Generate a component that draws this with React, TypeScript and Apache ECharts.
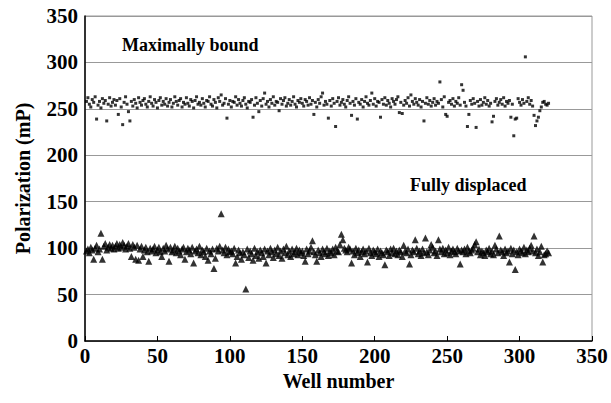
import React, { useEffect, useRef } from "react";
import * as echarts from "echarts";

const boundValues: number[] = [
  258, 262, 255, 252, 260, 257, 263, 239, 254, 258, 251, 261, 256, 259, 237, 255, 262, 253, 257, 260,
  254, 259, 244, 261, 252, 233, 257, 263, 255, 247, 237, 258, 253, 260, 256, 251, 262, 257, 254, 259,
  261, 255, 252, 258, 263, 256, 253, 260, 257, 251, 259, 262, 254, 258, 255, 261, 253, 257, 260, 252,
  256, 263, 258, 254, 259, 261, 252, 257, 255, 262, 256, 253, 260, 258, 251, 259, 263, 255, 257, 254,
  261, 256, 252, 259, 258, 263, 255, 253, 260, 257, 251, 262, 258, 265, 254, 256, 261, 240, 255, 259,
  252, 258, 257, 263, 254, 260, 256, 253, 259, 262, 255, 251, 258, 257, 260, 241, 254, 262, 256, 247,
  259, 253, 261, 267, 255, 258, 252, 260, 256, 263, 254, 258, 257, 248, 261, 255, 259, 262, 253, 256,
  260, 254, 258, 263, 255, 252, 259, 257, 261, 256, 253, 260, 258, 254, 262, 255, 259, 244, 257, 252,
  260, 256, 263, 267, 254, 258, 255, 240, 259, 253, 261, 256, 231, 258, 262, 254, 257, 260, 255, 252,
  259, 263, 256, 243, 258, 254, 261, 239, 257, 255, 260, 252, 258, 263, 256, 254, 259, 267, 255, 261,
  253, 258, 257, 241, 260, 255, 262, 254, 259, 256, 252, 261, 258, 255, 260, 263, 246, 257, 245, 254,
  259, 256, 262, 253, 265, 258, 255, 261, 257, 254, 260, 252, 258, 237, 256, 262, 255, 259, 253, 257,
  261, 254, 258, 256, 279, 260, 252, 263, 244, 242, 257, 259, 255, 261, 253, 258, 256, 262, 254, 276,
  270, 257, 253, 231, 244, 259, 255, 261, 256, 230, 258, 253, 260, 254, 257, 262, 255, 259, 253, 256,
  236, 242, 258, 261, 254, 257, 260, 255, 262, 253, 258, 256, 259, 241, 255, 221, 239, 240, 261, 257,
  254, 260, 256, 306, 258, 262, 255, 259, 253, 243, 232, 237, 241, 248, 252, 257, 258, 255, 254, 256,
];

const displacedValues: number[] = [
  97, 99, 95, 101, 98, 88, 100, 103, 96, 99, 116, 88, 102, 105, 98, 101, 104, 100, 103, 99,
  102, 105, 100, 104, 101, 106, 103, 99, 102, 105, 100, 91, 104, 101, 88, 103, 87, 99, 102, 91,
  98, 101, 96, 86, 100, 97, 99, 102, 95, 98, 101, 96, 91, 100, 97, 103, 99, 86, 101, 96,
  98, 102, 95, 100, 97, 93, 99, 101, 88, 96, 100, 98, 94, 101, 84, 97, 99, 95, 102, 93,
  98, 96, 91, 100, 87, 97, 94, 99, 78, 89, 100, 97, 102, 137, 98, 95, 101, 93, 99, 96,
  97, 94, 100, 84, 91, 98, 95, 88, 96, 93, 56, 99, 90, 97, 94, 87, 100, 92, 96, 89,
  98, 95, 91, 99, 84, 97, 93, 100, 96, 90, 98, 94, 101, 92, 97, 89, 99, 95, 102, 93,
  97, 91, 99, 94, 96, 100, 93, 98, 95, 97, 92, 86, 99, 94, 97, 101, 108, 96, 93, 86,
  98, 95, 91, 99, 96, 94, 100, 92, 97, 95, 99, 93, 101, 97, 96, 104, 115, 109, 100, 98,
  96, 101, 99, 84, 97, 93, 100, 95, 98, 91, 96, 99, 94, 97, 85, 100, 95, 92, 98, 96,
  94, 99, 91, 97, 95, 93, 82, 98, 96, 92, 99, 95, 100, 94, 97, 93, 98, 96, 91, 103,
  97, 95, 99, 83, 93, 98, 96, 109, 100, 94, 97, 92, 99, 95, 111, 96, 93, 98, 104, 101,
  95, 97, 92, 109, 99, 96, 100, 94, 98, 95, 101, 93, 97, 99, 96, 94, 100, 97, 83, 98,
  96, 99, 94, 101, 97, 95, 98, 100, 104, 107, 96, 99, 93, 97, 95, 92, 98, 96, 100, 94,
  97, 93, 103, 99, 95, 113, 98, 96, 92, 99, 95, 97, 85, 100, 94, 98, 77, 96, 93, 99,
  97, 95, 101, 94, 98, 96, 100, 103, 97, 113, 95, 99, 92, 96, 102, 85, 93, 94, 97, 95,
];

const boundLabel = "Maximally bound";
const displacedLabel = "Fully displaced";
const xTitle = "Well number";
const yTitle = "Polarization (mP)";

const FONT = "'Liberation Serif', 'Times New Roman', serif";

export default function App() {
  const ref = useRef<HTMLDivElement>(null);
  useEffect(() => {
    if (!ref.current) return;
    const chart = echarts.init(ref.current, undefined, { renderer: "svg" });
    const toPairs = (vals: number[]) => vals.map((v, i) => [i + 1, v]);
    chart.setOption({
      animation: false,
      backgroundColor: "#ffffff",
      textStyle: { fontFamily: FONT },
      grid: {
        left: 85,
        right: 19,
        top: 16,
        bottom: 62,
        show: true,
        borderColor: "#999999",
        borderWidth: 1,
      },
      xAxis: {
        type: "value",
        min: 0,
        max: 350,
        interval: 50,
        name: xTitle,
        nameLocation: "middle",
        nameGap: 30,
        nameTextStyle: { fontFamily: FONT, fontWeight: "bold", fontSize: 20, color: "#000" },
        axisLine: { show: true, onZero: false, lineStyle: { color: "#000", width: 1.5 } },
        axisTick: { show: true, inside: true, length: 5, lineStyle: { color: "#000" } },
        axisLabel: { fontFamily: FONT, fontWeight: "bold", fontSize: 21, color: "#000", margin: 4 },
        splitLine: { show: false },
      },
      yAxis: {
        type: "value",
        min: 0,
        max: 350,
        interval: 50,
        name: yTitle,
        nameLocation: "middle",
        nameGap: 52,
        nameTextStyle: { fontFamily: FONT, fontWeight: "bold", fontSize: 20, color: "#000" },
        axisLine: { show: true, onZero: false, lineStyle: { color: "#000", width: 1.5 } },
        axisTick: { show: false },
        axisLabel: { fontFamily: FONT, fontWeight: "bold", fontSize: 21, color: "#000", margin: 7 },
        splitLine: { show: true, lineStyle: { color: "#999999", width: 1 } },
      },
      series: [
        {
          name: boundLabel,
          type: "scatter",
          symbol: "rect",
          symbolSize: 3,
          itemStyle: { color: "#000" },
          data: toPairs(boundValues),
        },
        {
          name: displacedLabel,
          type: "scatter",
          symbol: "triangle",
          symbolSize: 7,
          itemStyle: { color: "#000" },
          data: toPairs(displacedValues),
        },
      ],
      graphic: [
        {
          type: "text",
          left: 122,
          top: 36,
          style: { text: boundLabel, font: `bold 18px ${FONT}`, fill: "#000" },
        },
        {
          type: "text",
          left: 410,
          top: 176,
          style: { text: displacedLabel, font: `bold 18px ${FONT}`, fill: "#000" },
        },
      ],
    });
    return () => chart.dispose();
  }, []);
  return (
    <div
      ref={ref}
      style={{ position: "absolute", left: 0, top: 0, width: 611, height: 403 }}
    />
  );
}
